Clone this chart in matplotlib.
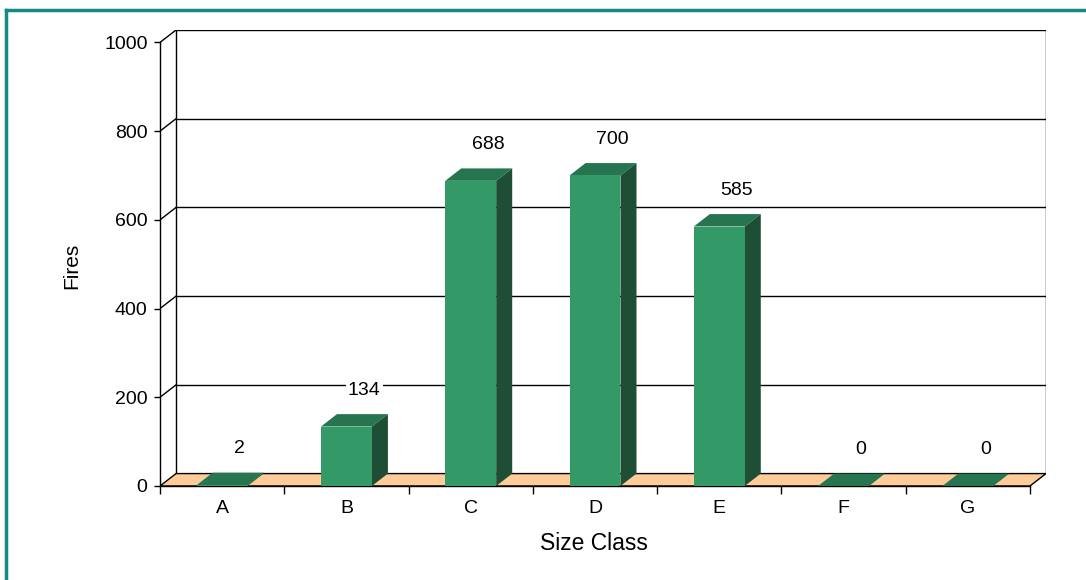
import matplotlib
matplotlib.use("Agg")
import matplotlib.pyplot as plt
from matplotlib.patches import Polygon, Rectangle
from matplotlib.lines import Line2D

plt.rcParams['font.family'] = ['Liberation Sans', 'DejaVu Sans']

categories = ['A', 'B', 'C', 'D', 'E', 'F', 'G']
fires = [2, 134, 688, 700, 585, 0, 0]
y_ticks = [0, 200, 400, 600, 800, 1000]

W, H = 1086, 580
fig = plt.figure(figsize=(W / 100, H / 100), dpi=100)

# 3D depth offsets (in data units)
n = len(categories)
DX = 16 / 124.14
DY = 28.0
YMAX = 1000

ax = fig.add_axes([160 / W, (H - 486) / H, (1046 - 160) / W, (486 - 30) / H])
ax.set_xlim(0, n + DX)
ax.set_ylim(0, YMAX + DY)
ax.patch.set_visible(False)

front_c = '#339966'
top_c = '#267550'
side_c = '#1e4f36'
floor_c = '#ffcc99'
lw = 1.0

# back wall grid lines and left wall diagonals
for t in y_ticks[1:]:
    ax.add_line(Line2D([DX, n + DX], [t + DY, t + DY], color='black', lw=lw, zorder=1))
    ax.add_line(Line2D([0, DX], [t, t + DY], color='black', lw=lw, zorder=1))
# back verticals
ax.add_line(Line2D([DX, DX], [DY, YMAX + DY], color='black', lw=lw, zorder=1))
ax.add_line(Line2D([n + DX, n + DX], [DY, YMAX + DY], color='black', lw=lw, zorder=1))

# floor
ax.add_patch(Polygon([[0, 0], [n, 0], [n + DX, DY], [DX, DY]], closed=True,
                     facecolor=floor_c, edgecolor='black', lw=lw, zorder=2))

# bars
bw = 0.41
for i, v in enumerate(fires):
    x0 = i + 0.5 - bw / 2
    x1 = x0 + bw
    # top face
    ax.add_patch(Polygon([[x0, v], [x1, v], [x1 + DX, v + DY], [x0 + DX, v + DY]], closed=True,
                         facecolor=top_c, edgecolor='none', zorder=3))
    if v > 0:
        # side face
        ax.add_patch(Polygon([[x1, 0], [x1 + DX, DY], [x1 + DX, v + DY], [x1, v]], closed=True,
                             facecolor=side_c, edgecolor='none', zorder=3))
        # front face
        ax.add_patch(Rectangle((x0, 0), bw, v, facecolor=front_c, edgecolor='none', zorder=4))
    # value label
    ax.text(i + 0.5 + DX * 1.1, v + 82, str(v), ha='center', va='center', fontsize=14,
            zorder=6, bbox=dict(facecolor='white', edgecolor='none', pad=1.5))

# axes / ticks
for s in ['top', 'right']:
    ax.spines[s].set_visible(False)
ax.spines['left'].set_bounds(0, YMAX)
ax.spines['bottom'].set_bounds(0, n)
ax.spines['left'].set_linewidth(lw)
ax.spines['bottom'].set_linewidth(lw)
ax.spines['left'].set_zorder(5)
ax.set_yticks(y_ticks)
ax.set_yticklabels([str(t) for t in y_ticks], fontsize=14)
ax.tick_params(axis='y', direction='out', length=4, width=1, pad=5)
ax.set_xticks(range(n + 1))
ax.set_xticklabels([])
ax.tick_params(axis='x', which='major', direction='out', length=6, width=1)
ax.set_xticks([i + 0.5 for i in range(n)], minor=True)
ax.set_xticklabels(categories, minor=True, fontsize=14)
ax.tick_params(axis='x', which='minor', length=0, pad=10)

fig.text(72 / W, 1 - 266 / H, 'Fires', rotation=90, ha='center', va='center', fontsize=15)
fig.text(594 / W, 1 - 543 / H, 'Size Class', ha='center', va='center', fontsize=16.5)

# teal frame (top and left edges)
fig.add_artist(Line2D([6 / W, 1.0], [1 - 10 / H, 1 - 10 / H], color='#148a85', lw=2.5,
                      transform=fig.transFigure))
fig.add_artist(Line2D([6 / W, 6 / W], [0, 1 - 10 / H], color='#148a85', lw=2.5,
                      transform=fig.transFigure))

fig.savefig('out.png', dpi=100)
